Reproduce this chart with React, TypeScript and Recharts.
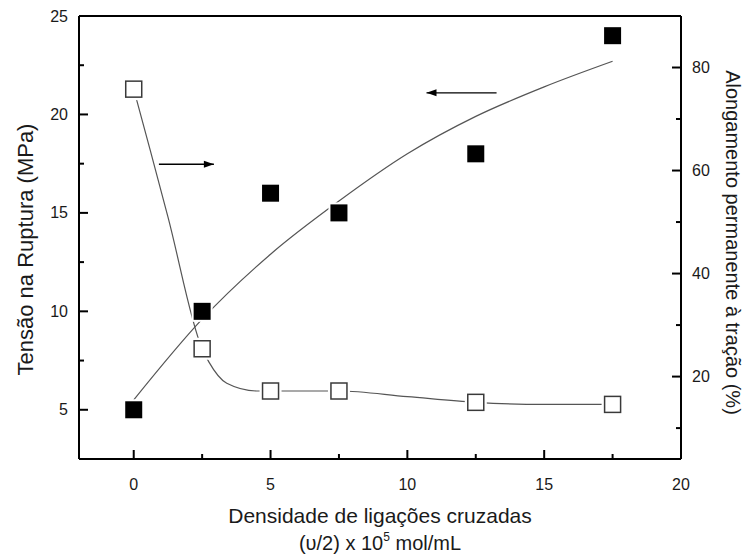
import React from 'react';
import { ComposedChart, Line, Scatter, XAxis, YAxis, ReferenceLine, Label } from 'recharts';

// Measured points
const crosslinkDensity = [0, 2.5, 5, 7.5, 12.5, 17.5];
const tensileStrength = [5, 10, 16, 15, 18, 24]; // MPa, left axis
const permanentSet = [75.8, 25.4, 17.2, 17.2, 15.0, 14.6]; // %, right axis

// Fitted curves
const strengthFitX = [0, 2.5, 5, 7.5, 10, 12.5, 15, 17.5];
const strengthFitY = [5.5, 9.6, 12.9, 15.6, 18.0, 19.9, 21.4, 22.7];
const setFitX = [0, 0.6, 1.25, 2.5, 2.75, 3.4, 4.5, 5, 7.5, 10, 12.5, 15, 17.5];
const setFitY = [75.8, 64, 51, 25.4, 22.8, 18.7, 17.2, 17.2, 17.2, 16.1, 15.0, 14.6, 14.6];

// Arrows (data coordinates on the left axis)
const arrowRightX = [0.92, 2.93];
const arrowRightY = [17.47, 17.47];
const arrowLeftX = [13.26, 10.7];
const arrowLeftY = [21.1, 21.1];

// Ticks
const xTicks = [0, 2.5, 5, 7.5, 10, 12.5, 15, 17.5, 20];
const leftTicks = [5, 7.5, 10, 12.5, 15, 17.5, 20, 22.5, 25];
const rightTicks = [10, 20, 30, 40, 50, 60, 70, 80];

const xTitle = 'Densidade de ligações cruzadas';
const xTitle2a = '(υ/2) x 10';
const xTitle2sup = '5';
const xTitle2b = ' mol/mL';
const leftTitle = 'Tensão na Ruptura (MPa)';
const rightTitle = 'Alongamento permanente à tração (%)';

const FONT = '"Liberation Sans", Arial, Helvetica, sans-serif';
const TXT = '#1a1a1a';

const zip = (xs: number[], ys: number[]) => xs.map((x, i) => ({ x, y: ys[i] }));

const filledData = zip(crosslinkDensity, tensileStrength);
const openData = zip(crosslinkDensity, permanentSet);
const strengthFit = zip(strengthFitX, strengthFitY);
const setFit = zip(setFitX, setFitY);
const arrowRight = zip(arrowRightX, arrowRightY);
const arrowLeft = zip(arrowLeftX, arrowLeftY);

const XTick = (props: any) => {
  const { x, y, payload } = props;
  const v = payload.value;
  const major = v % 5 === 0;
  return (
    <g>
      <line x1={x} y1={y} x2={x} y2={y - (major ? 9 : 5)} stroke="#000" strokeWidth={2} />
      {major && (
        <text x={x} y={y + 31} textAnchor="middle" fontSize={16} fontFamily={FONT} fill={TXT}>
          {v}
        </text>
      )}
    </g>
  );
};

const LeftTick = (props: any) => {
  const { x, y, payload } = props;
  const v = payload.value;
  const major = v % 5 === 0;
  return (
    <g>
      <line x1={x} y1={y} x2={x + (major ? 9 : 5)} y2={y} stroke="#000" strokeWidth={2} />
      {major && (
        <text x={x - 11} y={y} dy="0.35em" textAnchor="end" fontSize={16} fontFamily={FONT} fill={TXT}>
          {v}
        </text>
      )}
    </g>
  );
};

const RightTick = (props: any) => {
  const { x, y, payload } = props;
  const v = payload.value;
  const major = v % 20 === 0;
  return (
    <g>
      <line x1={x} y1={y} x2={x - (major ? 9 : 5)} y2={y} stroke="#000" strokeWidth={2} />
      {major && (
        <text x={x + 11} y={y} dy="0.35em" textAnchor="start" fontSize={16} fontFamily={FONT} fill={TXT}>
          {v}
        </text>
      )}
    </g>
  );
};

const arrowDot = (dir: number) => (props: any) => {
  const { cx, cy, index } = props;
  if (index !== 1 || cx == null) return <g key={`a${dir}${index}`} />;
  const pts = `${cx},${cy} ${cx - dir * 10},${cy - 3.5} ${cx - dir * 10},${cy + 3.5}`;
  return <polygon key={`a${dir}${index}`} points={pts} fill="#000" />;
};

const FilledSquare = (props: any) => {
  const { cx, cy } = props;
  if (cx == null) return <g />;
  const s = 17;
  return (
    <g>
      <rect x={cx - s / 2 - 2} y={cy - s / 2 - 2} width={s + 4} height={s + 4} fill="#fff" />
      <rect x={cx - s / 2} y={cy - s / 2} width={s} height={s} fill="#000" />
    </g>
  );
};

const OpenSquare = (props: any) => {
  const { cx, cy } = props;
  if (cx == null) return <g />;
  const s = 16;
  return (
    <g>
      <rect x={cx - s / 2 - 3} y={cy - s / 2 - 3} width={s + 6} height={s + 6} fill="#fff" />
      <rect x={cx - s / 2} y={cy - s / 2} width={s} height={s} fill="#fff" stroke="#3a3a3a" strokeWidth={1.5} />
    </g>
  );
};

export default function App() {
  return (
    <div style={{ position: 'absolute', left: 0, top: 0, width: 745, height: 554, background: '#fff' }}>
      <ComposedChart width={745} height={554} margin={{ top: 16, right: 0, bottom: 0, left: 0 }}>
        <XAxis
          type="number"
          dataKey="x"
          domain={[-2, 20]}
          ticks={xTicks}
          interval={0}
          allowDataOverflow
          height={95}
          tickSize={0}
          tickMargin={0}
          tickLine={false}
          axisLine={{ stroke: '#000', strokeWidth: 2 }}
          tick={XTick}
        >
          <Label
            content={(p: any) => {
              const vb = p.viewBox || { x: 79, y: 459, width: 602, height: 95 };
              const cx = vb.x + vb.width / 2;
              return (
                <g>
                  <text x={cx} y={vb.y + 64} textAnchor="middle" fontSize={21} fontFamily={FONT} fill={TXT}>
                    {xTitle}
                  </text>
                  <text x={cx} y={vb.y + 91} textAnchor="middle" fontSize={20} fontFamily={FONT} fill={TXT}>
                    {xTitle2a}
                    <tspan dy={-9} fontSize={12}>{xTitle2sup}</tspan>
                    <tspan dy={9}>{xTitle2b}</tspan>
                  </text>
                </g>
              );
            }}
          />
        </XAxis>
        <YAxis
          yAxisId="left"
          type="number"
          domain={[2.5, 25]}
          ticks={leftTicks}
          interval={0}
          allowDataOverflow
          width={79}
          tickSize={0}
          tickMargin={0}
          tickLine={false}
          axisLine={{ stroke: '#000', strokeWidth: 2 }}
          tick={LeftTick}
        >
          <Label
            content={(p: any) => {
              const vb = p.viewBox || { x: 0, y: 16, width: 79, height: 443 };
              const cy = vb.y + vb.height / 2 + 12;
              const tx = vb.x + 25;
              return (
                <text
                  x={tx}
                  y={cy}
                  transform={`rotate(-90, ${tx}, ${cy})`}
                  textAnchor="middle"
                  dy="0.35em"
                  fontSize={22}
                  fontFamily={FONT}
                  fill={TXT}
                >
                  {leftTitle}
                </text>
              );
            }}
          />
        </YAxis>
        <YAxis
          yAxisId="right"
          orientation="right"
          type="number"
          domain={[4, 90]}
          ticks={rightTicks}
          interval={0}
          allowDataOverflow
          width={64}
          tickSize={0}
          tickMargin={0}
          tickLine={false}
          axisLine={{ stroke: '#000', strokeWidth: 2 }}
          tick={RightTick}
        >
          <Label
            content={(p: any) => {
              const vb = p.viewBox || { x: 681, y: 16, width: 64, height: 443 };
              const cy = vb.y + vb.height / 2 + 5;
              const tx = vb.x + 52;
              return (
                <text
                  x={tx}
                  y={cy}
                  transform={`rotate(90, ${tx}, ${cy})`}
                  textAnchor="middle"
                  dy="0.35em"
                  fontSize={20}
                  fontFamily={FONT}
                  fill={TXT}
                >
                  {rightTitle}
                </text>
              );
            }}
          />
        </YAxis>
        <ReferenceLine yAxisId="left" y={25} stroke="#000" strokeWidth={2} />

        <Line
          yAxisId="left"
          data={strengthFit}
          dataKey="y"
          type="monotone"
          stroke="#555"
          strokeWidth={1.2}
          dot={false}
          activeDot={false}
          isAnimationActive={false}
        />
        <Scatter
          yAxisId="left"
          data={filledData}
          dataKey="y"
          shape={FilledSquare}
          isAnimationActive={false}
        />
        <Line
          yAxisId="right"
          data={setFit}
          dataKey="y"
          type="monotone"
          stroke="#555"
          strokeWidth={1.2}
          dot={false}
          activeDot={false}
          isAnimationActive={false}
        />
        <Scatter
          yAxisId="right"
          data={openData}
          dataKey="y"
          shape={OpenSquare}
          isAnimationActive={false}
        />
        <Line
          yAxisId="left"
          data={arrowRight}
          dataKey="y"
          type="linear"
          stroke="#000"
          strokeWidth={1.3}
          dot={arrowDot(1)}
          activeDot={false}
          isAnimationActive={false}
        />
        <Line
          yAxisId="left"
          data={arrowLeft}
          dataKey="y"
          type="linear"
          stroke="#000"
          strokeWidth={1.3}
          dot={arrowDot(-1)}
          activeDot={false}
          isAnimationActive={false}
        />
      </ComposedChart>
    </div>
  );
}
